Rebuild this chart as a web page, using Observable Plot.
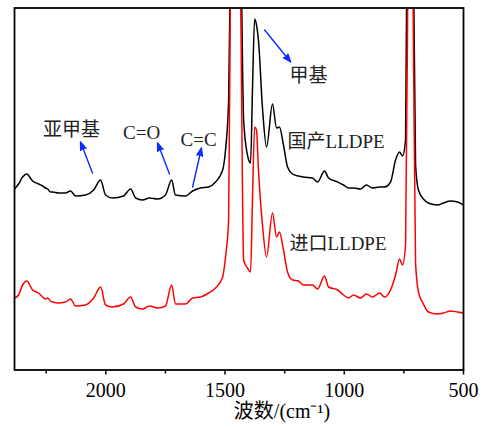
<!DOCTYPE html>
<html>
<head>
<meta charset="utf-8">
<script src="https://cdn.jsdelivr.net/npm/d3@7"></script>
<script src="https://cdn.jsdelivr.net/npm/@observablehq/plot@0.6"></script>
<style>
  body { margin: 0; background: #fff; }
</style>
</head>
<body>
<div id="chart"></div>
<script>
// Wavenumber grid (cm-1), shared by both spectra
const wavenumber = [2383, 2366, 2349, 2332, 2307, 2282, 2265, 2253, 2244, 2232,
  2223, 2198, 2169, 2148, 2127, 2085, 2051, 2022, 2001, 1972,
  1926, 1896, 1875, 1846, 1817, 1783, 1750, 1724, 1708, 1666,
  1636, 1603, 1569, 1540, 1510, 1498, 1485, 1477, 1464, 1448,
  1435, 1422, 1406, 1393, 1385, 1376, 1368, 1360, 1343, 1326,
  1301, 1284, 1272, 1255, 1238, 1217, 1192, 1171, 1133, 1112,
  1083, 1066, 1028, 1003, 982, 961, 932, 907, 882, 852,
  831, 806, 785, 768, 756, 743, 735, 731, 722, 710,
  701, 689, 668, 647, 609, 584, 555, 525, 500];

// 国产LLDPE (black), relative intensity
const domestic = [181, 186, 193, 196, 189, 186, 184, 182, 181, 178,
  178, 177, 177, 179, 174, 175, 180, 190, 175, 172,
  174, 181, 172, 170, 172, 171, 175, 190, 175, 174,
  179, 182, 183, 188, 200, 220, 270, 420, 600, 560,
  450, 250, 215, 207, 280, 351, 345, 330, 262, 223,
  266, 242, 243, 225, 203, 196, 194, 193, 192, 188,
  199, 192, 188, 185, 182, 182, 181, 185, 182, 183,
  183, 188, 210, 218, 214, 230, 500, 550, 600, 420,
  205, 180, 171, 167, 165, 167, 169, 168, 165];

// 进口LLDPE (red), relative intensity
const imported = [72, 75, 85, 89, 80, 77, 73, 71, 72, 69,
  68, 67, 68, 71, 64, 65, 72, 83, 65, 63,
  66, 73, 63, 61, 64, 62, 64, 85, 66, 66,
  72, 73, 77, 82, 93, 113, 150, 400, 600, 550,
  380, 110, 102, 98, 170, 243, 240, 200, 145, 113,
  157, 133, 138, 120, 98, 90, 89, 85, 85, 81,
  94, 83, 80, 75, 72, 75, 72, 76, 73, 77,
  73, 80, 95, 111, 105, 125, 330, 500, 600, 330,
  107, 78, 66, 58, 56, 57, 59, 58, 57];

const seriesNames = ["国产LLDPE", "进口LLDPE"];
const seriesColors = ["#000000", "#ff0000"];
const majorTicks = [2000, 1500, 1000, 500];
const minorTicks = [2250, 1750, 1250, 750];
const xLabel = "波数/(cm⁻¹)";

// annotations: group labels with arrows
const noteLabels = ["亚甲基", "C=O", "C=C", "甲基"];
const noteX = [2144, 1850, 1611, 1150];
const noteY = [234, 231, 224, 288];
const arrowFromX = [2056, 1733, 1636, 1334];
const arrowFromY = [197, 196, 183, 340];
const arrowToX = [2106, 1783, 1599, 1225];
const arrowToY = [228, 227, 222, 308];
// series name labels
const nameX = [1238, 1230];
const nameY = [222, 120];

const rows = [];
seriesNames.forEach((s, k) => {
  const vals = k === 0 ? domestic : imported;
  wavenumber.forEach((w, i) => rows.push({series: s, w, v: vals[i]}));
});
const notes = noteLabels.map((t, i) => ({t, x: noteX[i], y: noteY[i]}));
const arrows = noteLabels.map((t, i) => ({x1: arrowFromX[i], y1: arrowFromY[i], x2: arrowToX[i], y2: arrowToY[i]}));
const names = seriesNames.map((t, i) => ({t, x: nameX[i], y: nameY[i]}));

const fontFam = "'Times New Roman', 'Liberation Serif', 'Noto Sans CJK SC', serif";

const chart = Plot.plot({
  width: 488,
  height: 427,
  marginLeft: 14,
  marginRight: 25,
  marginTop: 7.5,
  marginBottom: 57.5,
  style: {fontFamily: fontFam, color: "#000", background: "#fff"},
  x: {domain: [2383, 500]},
  y: {domain: [0, 362], axis: null},
  color: {domain: seriesNames, range: seriesColors},
  marks: [
    Plot.line(rows, {x: "w", y: "v", z: "series", stroke: "series", strokeWidth: 1.5, clip: true, curve: "monotone-x"}),
    Plot.arrow(arrows, {x1: "x1", y1: "y1", x2: "x2", y2: "y2", stroke: "#0a2cff", fill: "#0a2cff", strokeWidth: 1.4, headLength: 9, headAngle: 40}),
    Plot.text(notes, {x: "x", y: "y", text: "t", fontSize: 19, lineAnchor: "bottom", textAnchor: "middle", fill: "#222"}),
    Plot.text(names, {x: "x", y: "y", text: "t", fontSize: 19, lineAnchor: "bottom", textAnchor: "start", fill: "#222"}),
    Plot.axisX(majorTicks, {tickSize: 5, tickPadding: 8, fontSize: 20, strokeWidth: 1.5, tickFormat: d => `${d}`, label: null}),
    Plot.axisX(minorTicks, {tickSize: 4, strokeWidth: 1.5, text: null, label: null}),
    Plot.text([xLabel], {frameAnchor: "bottom", dx: 43, dy: 47.5, fontSize: 20, lineAnchor: "bottom", textAnchor: "middle", fill: "#000"}),
    Plot.frame({stroke: "#000", strokeWidth: 1.8})
  ]
});
document.getElementById("chart").appendChild(chart);
</script>
</body>
</html>
